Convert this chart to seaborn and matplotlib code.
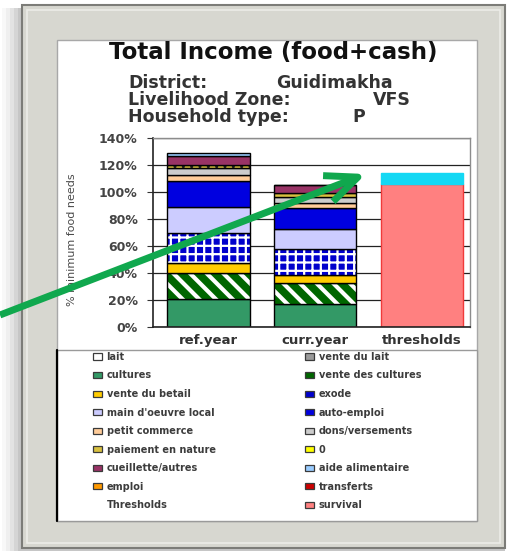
"""Total income stacked bars (food+cash) vs thresholds."""

import matplotlib

matplotlib.use("Agg")  # headless

import matplotlib.pyplot as plt
import numpy as np
import seaborn as sns
from matplotlib.patches import FancyArrowPatch, Patch, Rectangle

columns = ["ref.year", "curr.year", "thresholds"]
years = ["ref.year", "curr.year"]

# income sources, % of minimum food needs, stacked bottom to top
sources = [
    "lait", "vente du lait", "cultures", "vente des cultures", "vente du betail",
    "exode", "main d'oeuvre local", "auto-emploi", "petit commerce",
    "dons/versements", "paiement en nature", "0", "cueillette/autres",
    "aide alimentaire", "emploi", "transferts",
]
ref_year = [0, 0, 21, 19, 7.5, 22.5, 19, 19, 4.5, 5, 2.5, 0, 6.5, 2.5, 0, 0]
curr_year = [0, 0, 17, 15.5, 6, 19.5, 14.5, 16, 3, 5, 2.5, 0, 6, 0, 0, 0]

threshold_names = ["Thresholds", "survival"]
threshold_values = [8, 106]

source_colors = [
    "#ffffff", "#9a9a9a", "#339966", "#006600", "#ffcc00", "#0000cc",
    "#ccccff", "#0000e0", "#ffcc99", "#cccccc", "#d8c040", "#ffff00",
    "#993366", "#99ccff", "#ff9900", "#cc0000",
]
source_hatch = {"vente des cultures": ("\\\\", 3.0), "exode": ("++", 1.6),
                "paiement en nature": ("..", 1.0)}
threshold_colors = {"Thresholds": "#14d8f4", "survival": "#ff8080"}

W, H = 510, 551
sns.set_style("white")
plt.rcParams["font.family"] = ["DejaVu Sans"]

fig = plt.figure(figsize=(W / 100, H / 100), dpi=100)


def box(x0, y0, x1, y1, **kw):
    """Rectangle given in picture pixels (origin top-left)."""
    r = Rectangle((x0 / W, 1 - y1 / H), (x1 - x0) / W, (y1 - y0) / H,
                  transform=fig.transFigure, **kw)
    fig.add_artist(r)
    return r


# frame: shadow, gray mat, white card
for i, a in enumerate([0.04, 0.06, 0.08, 0.10, 0.12]):
    box(2 + 4 * i, 8, 505, 551, facecolor="#606060", edgecolor="none",
        alpha=a, zorder=-5)
box(22, 5, 505, 548, facecolor="#d7d7d0", edgecolor="#7c7c78", lw=1.5, zorder=-4)
box(27, 10, 500, 543, facecolor="none", edgecolor="#ecece8", lw=1.2, zorder=-4)
box(57, 40, 477, 521, facecolor="white", edgecolor="#a8a8a8", lw=1.0, zorder=-3)
box(57, 350, 477, 521, facecolor="white", edgecolor="#9a9a9a", lw=1.0, zorder=-2)
fig.add_artist(plt.Line2D([57 / W, 57 / W], [1 - 350 / H, 1 - 521 / H],
                          transform=fig.transFigure, color="black", lw=1.6, zorder=-1))

ax = fig.add_axes([153 / W, 1 - 327 / H, (470 - 153) / W, (327 - 138) / H])


def layer(cats, vals, bottom, color, hatch=None, edge="black"):
    kw = dict(x=cats, y=vals, order=columns, bottom=bottom, width=0.77,
              errorbar=None, ax=ax)
    if hatch:
        with plt.rc_context({"hatch.linewidth": hatch[1]}):
            hc = "#222222" if hatch[0] == ".." else "white"
            sns.barplot(color=color, saturation=1, edgecolor=hc, linewidth=0,
                        hatch=hatch[0], **kw)
        sns.barplot(color=edge, fill=False, linewidth=1.0, **kw)
    else:
        sns.barplot(color=color, saturation=1, edgecolor=edge, linewidth=1.0, **kw)


bottoms = np.zeros(2)
for name, r, c, col in zip(sources, ref_year, curr_year, source_colors):
    vals = np.array([r, c])
    if vals.sum() > 0:
        layer(years, vals, bottoms.copy(), col, source_hatch.get(name))
    bottoms += vals

# thresholds column: survival at the bottom, upper band above it
layer(["thresholds"], [threshold_values[1]], 0, threshold_colors["survival"],
      edge="#f03a3a")
layer(["thresholds"], [threshold_values[0]], threshold_values[1],
      threshold_colors["Thresholds"], edge=threshold_colors["Thresholds"])

ax.set_xlim(-0.52, 2.45)
ax.set_ylim(0, 140)
yt = np.arange(0, 141, 20)
ax.set_yticks(yt)
ax.set_yticklabels([f"{v}%" for v in yt], fontsize=9, fontweight="bold", color="#444444")
ax.set_xticks(range(3))
ax.set_xticklabels(columns, fontsize=9.5, fontweight="bold", color="#333333")
ax.set_xticks([0.5, 1.5], minor=True)
ax.tick_params(axis="x", which="major", length=0, pad=5)
ax.tick_params(axis="x", which="minor", length=4, direction="out", color="#333333")
ax.tick_params(axis="y", length=4, direction="out", color="#333333", pad=7, left=True)
ax.set_xlabel("")
ax.set_ylabel("")
ax.yaxis.grid(True, color="#222222", lw=0.9)
ax.set_axisbelow(True)
for side in ["top", "right"]:
    ax.spines[side].set_color("#8c8c8c")
    ax.spines[side].set_linewidth(1.0)
for side in ["left", "bottom"]:
    ax.spines[side].set_color("#222222")
    ax.spines[side].set_linewidth(1.2)

fig.text(72 / W, 1 - 240 / H, "% minimum food needs", rotation=90, ha="center",
         va="center", fontsize=8, color="#4a4a4a")

# titles
fig.text(273 / W, 1 - 52 / H, "Total Income (food+cash)", ha="center", va="center",
         fontsize=16.5, fontweight="bold", color="#111111")
info = [("District:", "Guidimakha", 276), ("Livelihood Zone:", "VFS", 373),
        ("Household type:", "P", 352)]
for i, (k, v, xv) in enumerate(info):
    y = 1 - (83 + 17 * i) / H
    fig.text(128 / W, y, k, ha="left", va="center", fontsize=12.5,
             fontweight="bold", color="#333333")
    fig.text(xv / W, y, v, ha="left", va="center", fontsize=12.5,
             fontweight="bold", color="#333333")

# legend, Excel order read row by row across two columns
names = sources + threshold_names
colors = source_colors + [None, threshold_colors["survival"]]
handles = []
for n, c in zip(names, colors):
    if c is None:
        handles.append(Patch(facecolor="none", edgecolor="none"))
    else:
        handles.append(Patch(facecolor=c, edgecolor="#3a3a3a", lw=0.9))
order = list(range(0, len(names), 2)) + list(range(1, len(names), 2))
fig.legend([handles[i] for i in order], [names[i] for i in order], ncol=2,
           loc="upper left", bbox_to_anchor=(90 / W, 1 - 349 / H), frameon=False,
           prop={"size": 7, "weight": "bold"}, labelcolor="#3c3c3c",
           handlelength=0.9, handleheight=0.6, handletextpad=0.5,
           labelspacing=0.88, columnspacing=9.2, borderaxespad=0, borderpad=0.3)

# green pointer arrow
fig.add_artist(FancyArrowPatch((0, 1 - 315 / H), (366 / W, 1 - 174 / H),
                               transform=fig.transFigure,
                               arrowstyle="->,head_length=1.15,head_width=0.5",
                               mutation_scale=20, lw=5, color="#10a84e",
                               shrinkA=0, shrinkB=0,
                               capstyle="butt", joinstyle="round", zorder=20))

fig.savefig("out.png", dpi=100, facecolor="white")
plt.close(fig)
